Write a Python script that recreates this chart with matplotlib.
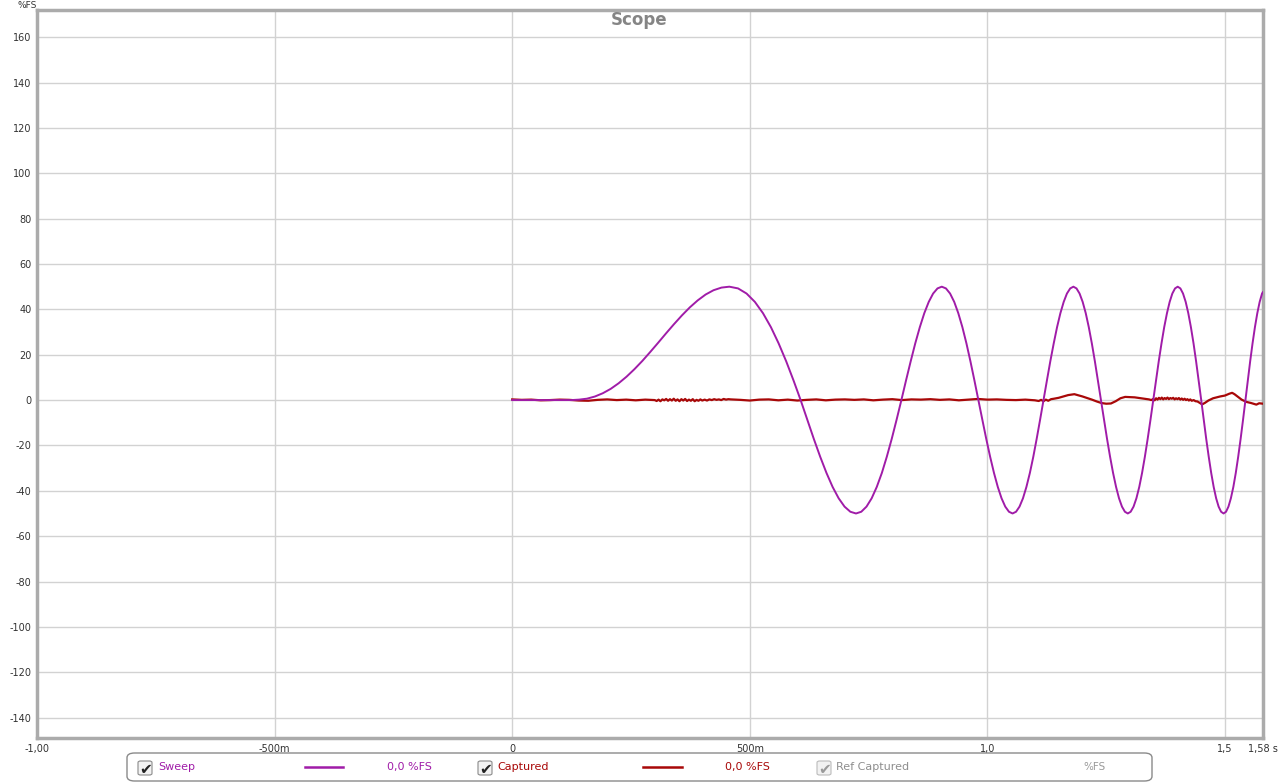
import matplotlib
matplotlib.use("Agg")
import matplotlib.pyplot as plt
from matplotlib.patches import FancyBboxPatch
from matplotlib.lines import Line2D

plt.rcParams['font.family'] = ['DejaVu Sans']

# ---- data ----
sweep_t = [0.0, 0.124, 0.1407, 0.1573, 0.174, 0.1906, 0.2073, 0.2239, 0.2406, 0.2572, 0.2739,
           0.2905, 0.3072, 0.3238, 0.3405, 0.3571, 0.3738, 0.3904, 0.4071, 0.4237, 0.4404, 0.457,
           0.4753, 0.4932, 0.5107, 0.5278, 0.5445, 0.5607, 0.5766, 0.5920, 0.607,
           0.6210, 0.6347, 0.6482, 0.6614, 0.6743, 0.6870, 0.6994, 0.7116, 0.7235,
           0.7346, 0.7456, 0.7565, 0.7672, 0.7779, 0.7883, 0.7987, 0.8089, 0.819,
           0.8288, 0.8386, 0.8482, 0.8578, 0.8672, 0.8766, 0.8858, 0.8950, 0.904,
           0.9128, 0.9215, 0.9302, 0.9388, 0.9474, 0.9559, 0.9643, 0.9727, 0.981,
           0.9894, 0.9976, 1.0058, 1.0139, 1.0219, 1.0298, 1.0376, 1.0454, 1.053,
           1.0603, 1.0676, 1.0749, 1.0821, 1.0894, 1.0966, 1.1037, 1.1109, 1.118,
           1.1253, 1.1324, 1.1396, 1.1466, 1.1536, 1.1606, 1.1674, 1.1743, 1.181,
           1.1875, 1.1940, 1.2005, 1.2070, 1.2134, 1.2198, 1.2262, 1.2326, 1.239,
           1.2454, 1.2518, 1.2582, 1.2645, 1.2708, 1.2770, 1.2832, 1.2894, 1.2955,
           1.3015, 1.3076, 1.3136, 1.3196, 1.3255, 1.3314, 1.3373, 1.3432, 1.349,
           1.3548, 1.3606, 1.3664, 1.3721, 1.3779, 1.3836, 1.3892, 1.3949, 1.4005,
           1.4061, 1.4117, 1.4173, 1.4228, 1.4283, 1.4338, 1.4392, 1.4446, 1.450,
           1.4553, 1.4605, 1.4658, 1.4710, 1.4762, 1.4814, 1.4866, 1.4918, 1.497,
           1.5022, 1.5073, 1.5124, 1.5176, 1.5227, 1.5278, 1.5329, 1.5380, 1.543,
           1.548, 1.553, 1.558, 1.563, 1.568, 1.573, 1.578, 1.58]
sweep_v = [0.0, 0.0, 0.2, 0.62, 1.57, 3.01, 4.95, 7.40, 10.31, 13.62, 17.27,
           21.21, 25.29, 29.43, 33.48, 37.32, 40.88, 43.96, 46.55, 48.44, 49.60, 50.0,
           49.24, 46.98, 43.30, 38.30, 32.14, 25.0, 17.10, 8.68, 0.0,
           -8.68, -17.10, -25.0, -32.14, -38.30, -43.30, -46.98, -49.24, -50.0,
           -49.24, -46.98, -43.30, -38.30, -32.14, -25.0, -17.10, -8.68, 0.0,
           8.68, 17.10, 25.0, 32.14, 38.30, 43.30, 46.98, 49.24, 50.0,
           49.24, 46.98, 43.30, 38.30, 32.14, 25.0, 17.10, 8.68, 0.0,
           -8.68, -17.10, -25.0, -32.14, -38.30, -43.30, -46.98, -49.24, -50.0,
           -49.24, -46.98, -43.30, -38.30, -32.14, -25.0, -17.10, -8.68, 0.0,
           8.68, 17.10, 25.0, 32.14, 38.30, 43.30, 46.98, 49.24, 50.0,
           49.24, 46.98, 43.30, 38.30, 32.14, 25.0, 17.10, 8.68, 0.0,
           -8.68, -17.10, -25.0, -32.14, -38.30, -43.30, -46.98, -49.24, -50.0,
           -49.24, -46.98, -43.30, -38.30, -32.14, -25.0, -17.10, -8.68, 0.0,
           8.68, 17.10, 25.0, 32.14, 38.30, 43.30, 46.98, 49.24, 50.0,
           49.24, 46.98, 43.30, 38.30, 32.14, 25.0, 17.10, 8.68, 0.0,
           -8.68, -17.10, -25.0, -32.14, -38.30, -43.30, -46.98, -49.24, -50.0,
           -49.24, -46.98, -43.30, -38.30, -32.14, -25.0, -17.10, -8.68, 0.0,
           8.68, 17.10, 25.0, 32.14, 38.30, 43.30, 46.98, 47.6]

captured_t = [0.0, 0.02, 0.04, 0.06, 0.08, 0.10, 0.12, 0.14, 0.16, 0.18, 0.20, 0.22, 0.24, 0.26, 0.28, 0.30,
              0.304, 0.308, 0.312, 0.316, 0.32, 0.324, 0.328, 0.332, 0.336, 0.34, 0.344, 0.348, 0.352,
              0.356, 0.36, 0.364, 0.368, 0.372, 0.376, 0.38, 0.384, 0.388, 0.392, 0.396, 0.40, 0.405,
              0.41, 0.415, 0.42, 0.425, 0.43, 0.435, 0.44, 0.445, 0.45, 0.455, 0.46,
              0.48, 0.50, 0.52, 0.54, 0.56, 0.58, 0.60, 0.62, 0.64, 0.66, 0.68, 0.70, 0.72, 0.74, 0.76,
              0.78, 0.80, 0.82, 0.84, 0.86, 0.88, 0.90, 0.92, 0.94, 0.96, 0.98, 1.00, 1.02, 1.04, 1.06,
              1.08, 1.10, 1.108, 1.113, 1.118, 1.123, 1.128, 1.134, 1.14, 1.15, 1.16, 1.17, 1.183,
              1.19, 1.20, 1.21, 1.22, 1.23, 1.24, 1.25, 1.26, 1.27, 1.28, 1.29, 1.30, 1.31, 1.32,
              1.33, 1.34, 1.345, 1.349, 1.352, 1.355, 1.358, 1.361, 1.364, 1.367, 1.37, 1.373, 1.376,
              1.379, 1.382, 1.385, 1.388, 1.391, 1.394, 1.397, 1.40, 1.403, 1.406, 1.409, 1.412,
              1.415, 1.418, 1.421, 1.424, 1.427, 1.43, 1.434, 1.438, 1.442, 1.446, 1.452,
              1.458, 1.465, 1.475, 1.49, 1.50, 1.509, 1.515, 1.52, 1.527, 1.535, 1.545, 1.555, 1.566,
              1.572, 1.58]
captured_v = [0.3, 0.1, 0.2, -0.1, 0.0, 0.2, 0.1, -0.2, -0.3, 0.1, 0.3, 0.0, 0.2, -0.1, 0.2, 0.0,
              -0.4, 0.2, -0.5, 0.3, -0.1, 0.5, -0.3, 0.4, -0.2, 0.6, -0.3, 0.3, -0.5,
              0.4, -0.2, 0.5, -0.4, 0.2, -0.3, 0.4, -0.5, 0.1, -0.3, 0.3, -0.2, 0.2,
              -0.2, 0.3, 0.0, 0.4, 0.1, 0.3, 0.0, 0.5, 0.2, 0.4, 0.3,
              0.1, -0.2, 0.2, 0.3, -0.1, 0.2, -0.2, 0.1, 0.3, -0.1, 0.2, 0.3, 0.1, 0.3, -0.1,
              0.2, 0.4, 0.0, 0.3, 0.2, 0.4, 0.1, 0.3, -0.1, 0.2, 0.5, 0.2, 0.3, 0.1, 0.0,
              0.2, -0.1, -0.4, 0.1, -0.5, 0.2, -0.3, 0.4, 0.6, 1.0, 1.6, 2.2, 2.6,
              2.2, 1.6, 0.9, 0.2, -0.6, -1.3, -1.6, -1.5, -0.5, 0.8, 1.4, 1.3, 1.2, 0.9,
              0.6, 0.3, 0.0, 0.5, -0.1, 0.8, 0.2, 1.0, 0.4, 1.1, 0.3, 0.9, 0.5,
              1.1, 0.4, 0.9, 0.6, 1.0, 0.3, 0.8, 0.4, 0.9, 0.2, 0.7, 0.1,
              0.6, 0.0, 0.4, -0.2, 0.3, -0.3, 0.0, -0.5, -0.6, -1.1, -1.9,
              -1.2, -0.2, 0.8, 1.6, 2.0, 2.8, 3.2, 2.6, 1.5, 0.2, -0.8, -1.3, -2.0,
              -1.4, -1.6]

x_ticks = [-1.0, -0.5, 0.0, 0.5, 1.0, 1.5, 1.58]
x_tick_labels = ["-1,00", "-500m", "0", "500m", "1,0", "1,5", "1,58 s"]
y_ticks = [-140, -120, -100, -80, -60, -40, -20, 0, 20, 40, 60, 80, 100, 120, 140, 160]
y_tick_labels = [str(v) for v in y_ticks]

sweep_color = "#A01CA8"
captured_color = "#A80808"

# ---- figure ----
W, H = 1280, 783
fig = plt.figure(figsize=(W / 100, H / 100), dpi=100)
fig.patch.set_facecolor("white")
ax = fig.add_axes([37 / W, 1 - 738 / H, (1263 - 37) / W, (738 - 10) / H])
ax.set_xlim(-1.0, 1.58)
ax.set_ylim(-149, 172)

# grid
for yv in y_ticks:
    ax.axhline(yv, color="#D2D2D2", lw=1.0, zorder=0)
for xv in [-0.5, 0.0, 0.5, 1.0, 1.5]:
    ax.axvline(xv, color="#D2D2D2", lw=1.0, zorder=0)

ax.plot(captured_t, captured_v, color=captured_color, lw=1.6, zorder=3, solid_joinstyle="round")
ax.plot(sweep_t, sweep_v, color=sweep_color, lw=1.4, zorder=4, solid_joinstyle="round")

ax.set_xticks(x_ticks)
ax.set_xticklabels(x_tick_labels)
ax.set_yticks(y_ticks)
ax.set_yticklabels(y_tick_labels)
ax.tick_params(axis="both", length=0, labelsize=7, labelcolor="#333333")
ax.tick_params(axis="x", pad=4)
ax.tick_params(axis="y", pad=4)

for s in ax.spines.values():
    s.set_color("#ABABAB")
    s.set_linewidth(2.5)

fig.text(639 / W, 1 - 20 / H, "Scope", ha="center", va="center",
         fontsize=12, fontweight="bold", color="#858585")
fig.text(18 / W, 1 - 5 / H, "%FS", ha="left", va="center", fontsize=6.5, color="#333333")

# ---- legend panel ----
box = FancyBboxPatch((127 / W, 1 - 781 / H), (1152 - 127) / W, 28 / H,
                     boxstyle="round,pad=0,rounding_size=0.006",
                     transform=fig.transFigure, facecolor="white", edgecolor="#8A8A8A", lw=1.0)
fig.patches.append(box)
ly = 1 - 767 / H


def checkbox(xpx, col, checkcol):
    cb = FancyBboxPatch(((xpx - 7) / W, (H - 775) / H), 14 / W, 14 / H,
                        boxstyle="round,pad=0,rounding_size=0.002",
                        transform=fig.transFigure, facecolor="#F2F2F2", edgecolor=col, lw=0.8)
    fig.patches.append(cb)
    fig.text((xpx + 1) / W, (H - 768) / H, "\u2714", ha="center", va="center_baseline",
             fontsize=11, color=checkcol)


checkbox(145, "#8A8A8A", "#222222")
fig.text(158 / W, ly, "Sweep", ha="left", va="center", fontsize=8, color=sweep_color)
fig.lines.append(Line2D([305 / W, 343 / W], [ly, ly], transform=fig.transFigure, color=sweep_color, lw=1.8))
fig.text(387 / W, ly, "0,0 %FS", ha="left", va="center", fontsize=8, color=sweep_color)

checkbox(485, "#8A8A8A", "#222222")
fig.text(497 / W, ly, "Captured", ha="left", va="center", fontsize=8, color=captured_color)
fig.lines.append(Line2D([643 / W, 682 / W], [ly, ly], transform=fig.transFigure, color=captured_color, lw=1.8))
fig.text(725 / W, ly, "0,0 %FS", ha="left", va="center", fontsize=8, color=captured_color)

checkbox(824, "#BBBBBB", "#9A9A9A")
fig.text(836 / W, ly, "Ref Captured", ha="left", va="center", fontsize=8, color="#8E8E8E")
fig.text(1083 / W, ly, "%FS", ha="left", va="center", fontsize=7.5, color="#9A9A9A")

fig.savefig("out.png", dpi=100, facecolor="white")
